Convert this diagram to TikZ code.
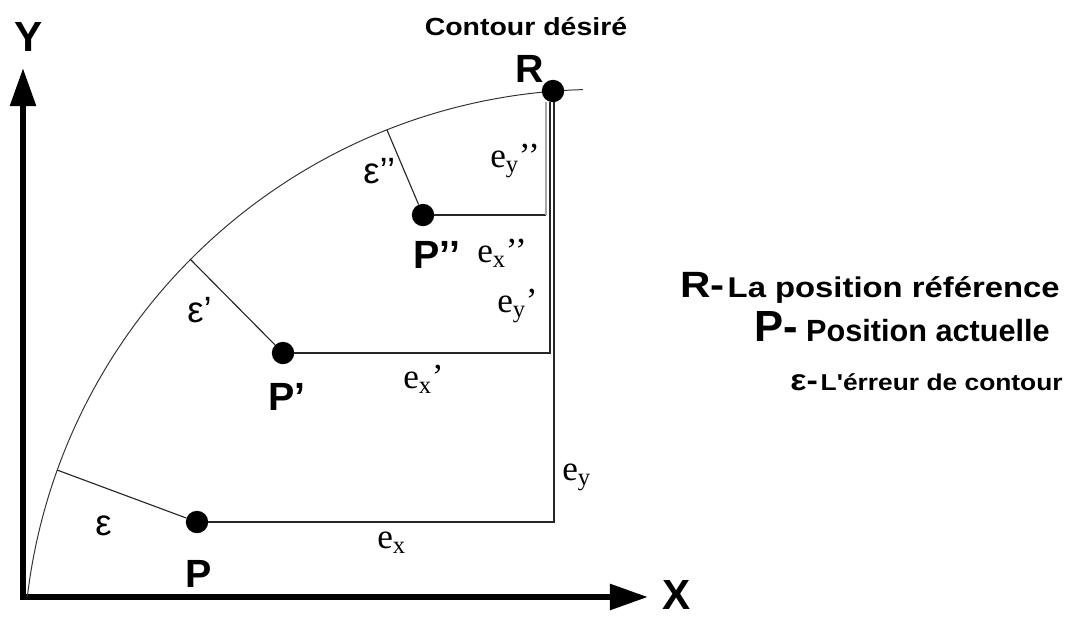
\documentclass[tikz,border=0pt]{standalone}
\usepackage{fontspec}
\setmainfont{Liberation Serif}
\setsansfont{Liberation Sans}
\newfontfamily\widesf{Liberation Sans}[FakeStretch=1.15]
\usetikzlibrary{arrows.meta}
\tikzset{
  axis/.style={line width=4.3pt,line join=miter,
               {Triangle[length=0.95cm,width=0.62cm]}-{Triangle[length=0.95cm,width=0.62cm]}},
  dot/.style={circle,fill=black,inner sep=0pt,minimum size=0.56cm},
  contour/.style={line width=0.7pt,black!80},
  seg/.style={line width=0.8pt,black!85},
  axlbl/.style={font=\sffamily\bfseries\fontsize{30}{30}\selectfont,inner sep=0pt},
  ptlbl/.style={font=\sffamily\bfseries\fontsize{28}{28}\selectfont,inner sep=0pt,anchor=base west},
  epslbl/.style={font=\sffamily\fontsize{26}{26}\selectfont,inner sep=0pt,anchor=base west},
  elbl/.style={font=\rmfamily\fontsize{25}{25}\selectfont,inner sep=0pt,anchor=base west},
}
\newcommand{\ee}[2]{e\textsubscript{#1}#2}

\begin{document}
\begin{tikzpicture}[x=0.025cm,y=-0.025cm]
  \useasboundingbox (0,0) rectangle (1072,618);

  %% -- axes --------------------------------------------------------------
  \coordinate (O)    at (23,597);
  \coordinate (Ytip) at (23,68);
  \coordinate (Xtip) at (648,597);
  \draw[axis] (Ytip) -- (O) -- (Xtip);
  \node[axlbl] (Ylbl) at (29,37)  {Y};
  \node[axlbl] (Xlbl) at (677,595) {X};

  %% -- desired contour (arc round C) -------------------------------------
  \coordinate (C)  at (599,665);
  \coordinate (A0) at (27.3,597);
  \draw[contour] (A0) arc[start angle=186.8,end angle=268.4,radius=575.8];
  \node[font=\widesf\bfseries\fontsize{17.6}{17.6}\selectfont,inner sep=0pt,anchor=base]
    (contlbl) at (526,35) {Contour désiré};

  %% -- points ------------------------------------------------------------
  \node[dot] (R)   at (553,91)  {};
  \node[dot] (P)   at (197,522) {};
  \node[dot] (P1)  at (283,353) {};
  \node[dot] (P2)  at (423,215) {};

  \coordinate (f)  at (57,470);
  \coordinate (f1) at (190,259);
  \coordinate (f2) at (387,130);
  \coordinate (c)  at (554,522);
  \coordinate (c1) at (550,353);
  \coordinate (c2) at (546,215);

  %% -- errors ------------------------------------------------------------
  \draw[seg] (P)  -- (f);
  \draw[seg] (P1) -- (f1);
  \draw[seg] (P2) -- (f2);
  \draw[seg] (P)  -- (c)  -- (c |- R.south);
  \draw[seg] (P1) -- (c1) -- (c1 |- R.south);
  \draw[seg] (P2) -- (c2);
  \draw[seg,gray!70] (c2) -- (c2 |- R.south);

  %% -- labels ------------------------------------------------------------
  \node[ptlbl] (Rlbl)  at (515,82)  {R};
  \node[ptlbl] (Plbl)  at (185,587) {P};
  \node[ptlbl] (P1lbl) at (268,410) {P’};
  \node[ptlbl] (P2lbl) at (413,268) {P’’};

  \node[epslbl] (elbl)  at (95,535)  {ε};
  \node[epslbl] (e1lbl) at (187,322) {ε’};
  \node[epslbl] (e2lbl) at (363,183) {ε’’};

  \node[elbl] (exlbl)  at (377,548) {\ee{x}{}};
  \node[elbl] (eylbl)  at (562,480) {\ee{y}{}};
  \node[elbl] (ex1lbl) at (403,388) {\ee{x}{’}};
  \node[elbl] (ey1lbl) at (497,312) {\ee{y}{’}};
  \node[elbl] (ex2lbl) at (477,262) {\ee{x}{’’}};
  \node[elbl] (ey2lbl) at (490,167) {\ee{y}{’’}};

  %% -- legend ------------------------------------------------------------
  \node[inner sep=0pt,anchor=base east] (legR) at (1060,297)
    {\widesf\bfseries\fontsize{26}{26}\selectfont R-\hspace{2pt}\fontsize{20.3}{20.3}\selectfont La position référence};
  \node[inner sep=0pt,anchor=base east] (legP) at (1050,341)
    {\sffamily\bfseries\fontsize{31}{31}\selectfont P-\hspace{6pt}\fontsize{21.8}{21.8}\selectfont Position actuelle};
  \node[inner sep=0pt,anchor=base east] (legE) at (1063,390)
    {\widesf\bfseries\fontsize{21}{21}\selectfont ε-\hspace{2pt}\fontsize{16.3}{16.3}\selectfont L'érreur de contour};
\end{tikzpicture}
\end{document}
